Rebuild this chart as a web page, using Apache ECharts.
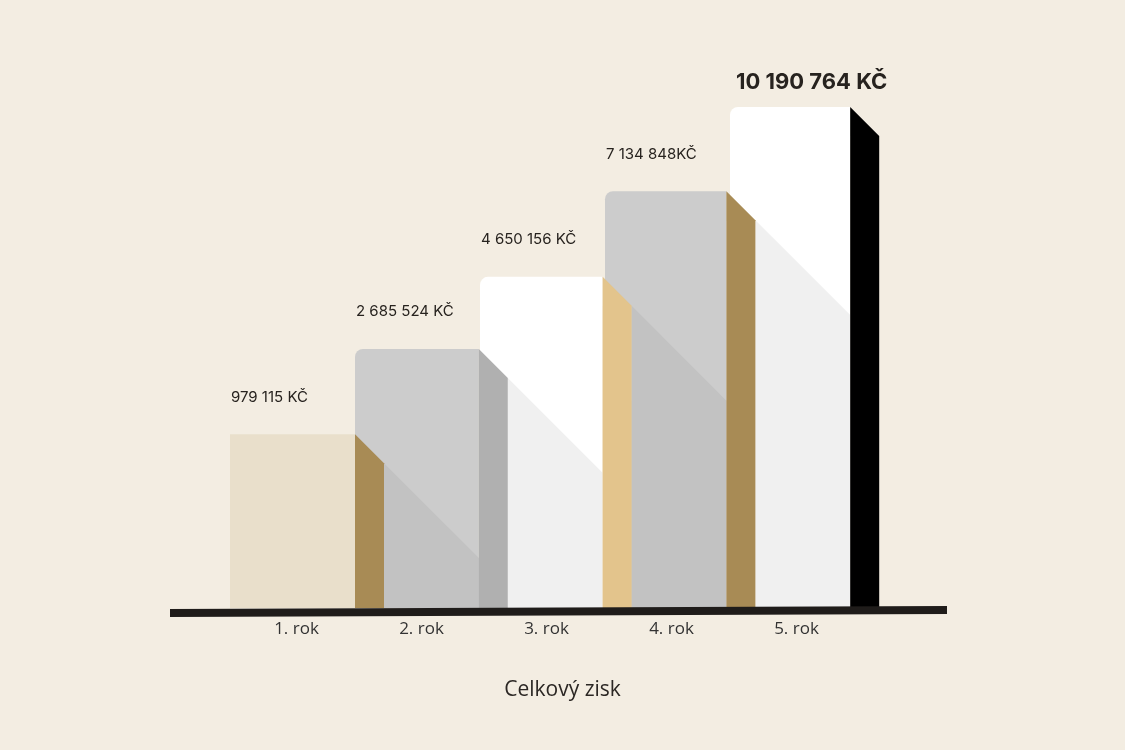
<!DOCTYPE html>
<html>
<head>
<meta charset="utf-8">
<script src="https://cdn.jsdelivr.net/npm/echarts@6/dist/echarts.min.js"></script>
<style>
  html, body { margin: 0; padding: 0; background: #f3ede2; }
  #chart { width: 1125px; height: 750px; }
</style>
</head>
<body>
<div id="chart"></div>
<script>
// ---- data ----
const categories = ['1. rok', '2. rok', '3. rok', '4. rok', '5. rok'];
const totals = [979115, 2685524, 4650156, 7134848, 10190764];
const valueLabels = ['979 115 KČ', '2 685 524 KČ', '4 650 156 KČ', '7 134 848KČ', '10 190 764 KČ'];
// visual bar heights (relative, tallest = 100)
const barHeights = [34.7, 51.7, 66.1, 83.2, 100];
const chartTitle = 'Celkový zisk';

// ---- styles ----
const frontColors = ['#e9dfcb', '#cccccc', '#ffffff', '#cccccc', '#ffffff'];
const shadeColors = ['#e9dfcb', '#c2c2c2', '#f0f0f0', '#c2c2c2', '#f0f0f0'];
const sideColors  = ['#a88b55', '#b0b0b0', '#e3c48c', '#a88b55', '#000000'];

const chart = echarts.init(document.getElementById('chart'), null, { renderer: 'canvas' });

function renderItem(params, api) {
  const i = params.dataIndex;
  const base = api.coord([i, 0]);
  const top = api.coord([i, api.value(1)]);
  const bw = api.size([1, 0])[0];
  const sw = bw * 0.232;
  const x0 = base[0] - bw / 2;
  const x1 = base[0] + bw / 2 - i * 1.2;
  const children = [];
  children.push({
    type: 'rect',
    shape: { x: x0, y: top[1], width: x1 - x0, height: base[1] - top[1], r: i === 0 ? 0 : [8, 0, 0, 0] },
    style: { fill: frontColors[i] },
    z2: 1
  });
  if (i > 0) {
    const pTop = api.coord([i - 1, barHeights[i - 1]]);
    const sx = x0 + sw - (i - 1) * 1.2;
    const sy = pTop[1] + sw;
    const ey = Math.min(base[1], sy + (x1 - sx));
    children.push({
      type: 'polygon',
      shape: { points: [[sx, sy], [x1, ey], [x1, base[1]], [sx, base[1]]] },
      style: { fill: shadeColors[i] },
      z2: 2
    });
  }
  children.push({
    type: 'polygon',
    shape: { points: [[x1, top[1]], [x1 + sw, top[1] + sw], [x1 + sw, base[1]], [x1, base[1]]] },
    style: { fill: sideColors[i] },
    z2: 3
  });
  const last = i === totals.length - 1;
  children.push({
    type: 'text',
    x: x0 + (last ? 6 : 1),
    y: top[1] - (last ? 25 : 37),
    style: {
      text: valueLabels[i],
      fill: '#27231f',
      font: (last ? 'bold 22px ' : '15px ') + 'Inter, "Noto Sans", sans-serif',
      verticalAlign: 'middle',
      align: 'left'
    },
    z2: 4
  });
  return { type: 'group', children: children };
}

const option = {
  backgroundColor: '#f3ede2',
  animation: false,
  title: {
    text: chartTitle,
    left: 'center',
    top: 675,
    textStyle: { fontFamily: '"Open Sans", sans-serif', fontSize: 21, fontWeight: 'normal', color: '#2b2724' }
  },
  grid: { left: 230, right: 270, top: 107, bottom: 142 },
  xAxis: {
    type: 'category',
    data: categories,
    axisLine: { show: false },
    axisTick: { show: false },
    axisLabel: {
      margin: 13,
      fontSize: 17,
      fontFamily: '"Open Sans", sans-serif',
      color: '#333',
      padding: [0, 0, 0, 8]
    }
  },
  yAxis: { type: 'value', min: 0, max: 100, show: false, splitLine: { show: false } },
  graphic: [{
    type: 'polygon',
    z: 100,
    shape: { points: [[170, 609], [947, 606], [947, 614], [170, 617]] },
    style: { fill: '#1f1c1a' }
  }],
  series: [{
    type: 'custom',
    renderItem: renderItem,
    encode: { x: 0, y: 1 },
    data: barHeights.map((h, i) => [i, h]),
    clip: false
  }]
};
chart.setOption(option);
</script>
</body>
</html>
